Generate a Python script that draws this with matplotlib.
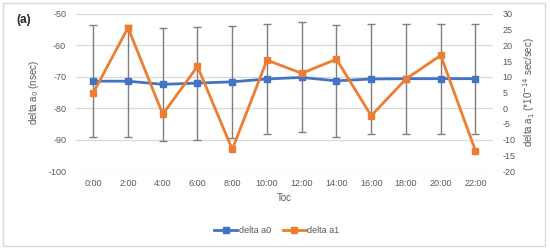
import numpy as np
import matplotlib
matplotlib.use("Agg")
import matplotlib.pyplot as plt
from matplotlib.patches import Rectangle

plt.rcParams['font.family'] = ['Liberation Sans', 'DejaVu Sans']
plt.rcParams['axes.unicode_minus'] = False

times = ['0:00', '2:00', '4:00', '6:00', '8:00', '10:00',
         '12:00', '14:00', '16:00', '18:00', '20:00', '22:00']
delta_a0 = [-71.4, -71.4, -72.4, -72.0, -71.6, -70.7,
            -70.2, -71.3, -70.7, -70.6, -70.6, -70.6]
delta_a0_err = [17.8, 17.8, 18.0, 18.0, 17.9, 17.6,
                17.5, 17.8, 17.5, 17.5, 17.5, 17.5]
delta_a1 = [4.9, 25.6, -1.9, 13.3, -13.1, 15.3,
            11.1, 15.6, -2.4, 9.3, 16.8, -13.5]

blue = '#4472C4'
orange = '#ED7D31'
txt = '#595959'

fig = plt.figure(figsize=(5.5, 2.49), dpi=100)
fig.patches.append(Rectangle((0.006, 0.012), 0.985, 0.976, transform=fig.transFigure,
                             fill=False, edgecolor='#D9D9D9', linewidth=1))
ax = fig.add_axes([0.138, 0.313, 0.758, 0.631])
x = np.arange(len(times))

ax.errorbar(x, delta_a0, yerr=delta_a0_err, fmt='none', ecolor='#7F7F7F',
            elinewidth=1, capsize=3, capthick=1, zorder=2)
ax.plot(x, delta_a0, color=blue, lw=2, marker='s', ms=4.5, zorder=3,
        label='delta a0')
ax.set_ylim(-100, -50)
ax.set_yticks(np.arange(-100, -49, 10))
ax.set_xlim(-0.5, len(times) - 0.5)
ax.set_xticks(x)
ax.set_xticklabels(times)
ax.grid(axis='y', color='#D9D9D9', lw=0.9)
ax.set_axisbelow(True)
for s in ax.spines.values():
    s.set_visible(False)
ax.tick_params(length=0, labelsize=6.5, colors=txt)
ax.tick_params(axis='y', pad=7)
ax.tick_params(axis='x', pad=6)
ax.set_ylabel(r'delta a$_0$ (nsec)', fontsize=7, color=txt, labelpad=5)
ax.set_xlabel('Toc', fontsize=7, color=txt, labelpad=3)

ax2 = ax.twinx()
ax2.plot(x, delta_a1, color=orange, lw=2, marker='s', ms=4.5, zorder=3,
         label='delta a1')
ax2.set_ylim(-20, 30)
ax2.set_yticks(np.arange(-20, 31, 5))
for s in ax2.spines.values():
    s.set_visible(False)
ax2.tick_params(length=0, labelsize=6.5, colors=txt, pad=7)
ax2.set_ylabel(r'delta a$_1$ (*10$^{-14}$ sec/sec)', fontsize=7, color=txt,
               labelpad=4)

fig.text(0.029, 0.92, '(a)', fontsize=8.5, fontweight='bold', color='#262626',
         va='center')

h1, l1 = ax.get_legend_handles_labels()
h2, l2 = ax2.get_legend_handles_labels()
fig.legend(h1 + h2, l1 + l2, loc='center', bbox_to_anchor=(0.503, 0.075), ncol=2,
           frameon=False, fontsize=6.5, labelcolor=txt, handlelength=2.6,
           handletextpad=0.15, columnspacing=1.3)

fig.savefig('out.png', dpi=100)
